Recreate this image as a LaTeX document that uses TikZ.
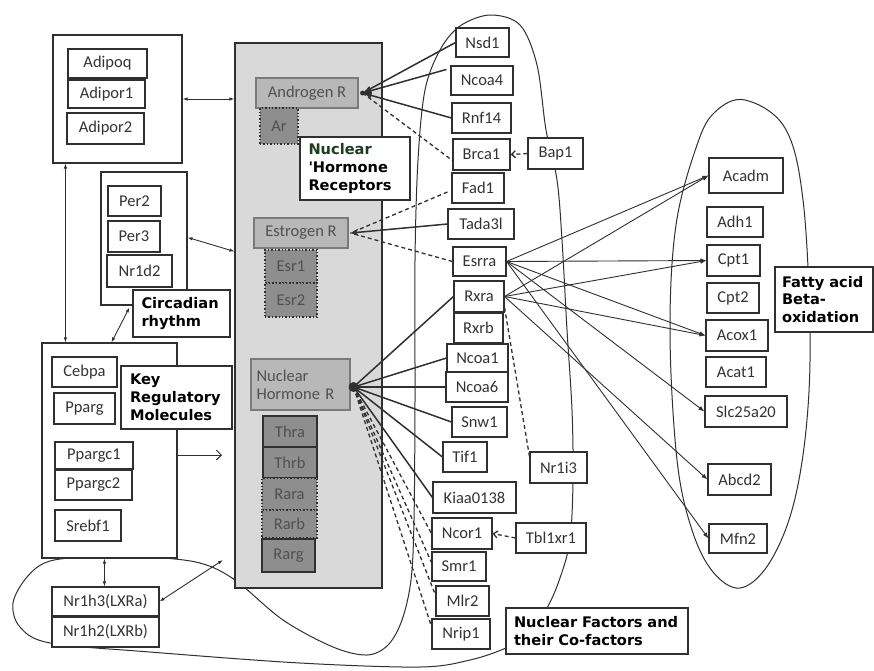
\documentclass[tikz,border=0pt]{standalone}
\usepackage{fontspec}
\setmainfont{Carlito}
\newfontfamily\lblfont{DejaVu Sans}
\usetikzlibrary{arrows.meta,calc}
\definecolor{ln}{HTML}{303030}
\definecolor{txt}{HTML}{333333}
\definecolor{hbg}{HTML}{D9D9D9}
\definecolor{rgrey}{HTML}{B8B8B8}
\definecolor{rborder}{HTML}{7A7A7A}
\definecolor{rtext}{HTML}{505050}
\definecolor{dgrey}{HTML}{8E8E8E}
\definecolor{nucgreen}{HTML}{1E3C1E}
\tikzset{
  box/.style={draw=ln, line width=1.1pt, fill=white, inner sep=0pt, text=txt, font=\fontsize{16.5}{18}\selectfont},
  rbox/.style={box, fill=rgrey, draw=rborder, text=rtext},
  dotbox/.style={box, fill=dgrey, draw=ln, line width=1.4pt, dotted, text=rtext},
  solbox/.style={box, fill=dgrey, draw=ln, line width=1.4pt, text=rtext},
  lbl/.style={draw=ln, line width=1.1pt, fill=white, inner sep=0pt, align=left, text=black, font=\lblfont\bfseries\fontsize{14.6}{17.8}\selectfont},
  conn/.style={draw=ln, line width=1.5pt},
  dconn/.style={draw=ln, line width=1.3pt, dash pattern=on 4pt off 3pt},
  thinl/.style={draw=ln, line width=0.9pt},
  fa/.style={thinl, -{Latex[length=6pt,width=4.5pt]}},
  dbl/.style={thinl, {Latex[length=5pt,width=3.5pt]}-{Latex[length=5pt,width=3.5pt]}},
  curve/.style={draw=ln, line width=1pt},
  hubtip/.style={-{Latex[length=9pt,width=6pt]}},
  barb/.style={-{Straight Barb[length=4pt,width=7pt]}},
}
\newcommand\mybox[7][]{\node[box,#1,minimum width={#4-#2},minimum height={#5-#3}] (#6) at ({(#2+#4)/2},{(#3+#5)/2}) {#7};}
\begin{document}
\begin{tikzpicture}[x=1pt,y=-1pt]
\useasboundingbox (0,0) rectangle (874,670);
\fill[white] (0,0) rectangle (874,670);

% big enclosing curves
\draw[curve] plot[smooth cycle, tension=0.55] coordinates {(490,15) (520,25) (537,65) (546,130) (557,180) (562,240) (567,330) (572,410) (573,480) (570,540) (560,578) (547,608) (528,635) (506,648) (470,660) (420,667) (300,663) (150,652) (50,643) (20,627) (13,603) (27,577) (50,561) (100,556) (150,557) (200,563) (235,580) (283,620) (333,647) (367,655) (388,645) (402,620) (411,580) (414,520) (415,400) (415,260) (418,160) (425,90) (440,50) (460,26)};
\draw[curve] plot[smooth cycle, tension=0.6] coordinates {(745,100) (785,128) (803,200) (810,333) (806,430) (792,510) (768,565) (740,588) (713,572) (692,530) (677,460) (670,333) (676,225) (697,145) (715,112)};

% left groups
\mybox{53}{35}{182}{163}{adipo}{}
\mybox{68}{49}{147}{78}{adipoq}{Adipoq}
\mybox{68}{80}{145}{108}{adipor1}{Adipor1}
\mybox{67}{113}{144}{144}{adipor2}{Adipor2}

\mybox{101}{172}{187}{305}{perbox}{}
\mybox{108}{186}{161}{216}{per2}{Per2}
\mybox{108}{221}{160}{252}{per3}{Per3}
\mybox{107}{255}{172}{287}{nr1d2}{Nr1d2}
\node[lbl, minimum width=97, minimum height=47, text width=80] (circ) at (181.5,313.5) {Circadian\\rhythm};

\mybox{42}{343}{177}{558}{keybox}{}
\mybox{52}{357}{117}{387}{cebpa}{Cebpa}
\mybox{54}{393}{115}{424}{pparg}{Pparg}
\mybox{55}{442}{133}{469}{ppargc1}{Ppargc1}
\mybox{55}{470}{132}{500}{ppargc2}{Ppargc2}
\mybox{55}{510}{121}{541}{srebf1}{Srebf1}
\node[lbl, minimum width=111, minimum height=63, text width=93] (keyl) at (176.5,397.5) {Key\\Regulatory\\Molecules};

\mybox{52}{587}{159}{616}{nr1h3}{Nr1h3(LXRa)}
\mybox{52}{617}{159}{647}{nr1h2}{Nr1h2(LXRb)}

% hormone receptor column
\mybox[fill=hbg, draw=ln]{235}{43}{382}{588}{hormone}{}
\mybox[rbox]{256}{78}{358}{108}{andr}{Androgen R}
\mybox[dotbox]{260}{108}{298}{144}{ar}{Ar}
\node[lbl, minimum width=110, minimum height=63, text width=93] (nhrl) at (355,168.5) {\textcolor{nucgreen}{Nuclear}\\'Hormone\\Receptors};
\mybox[rbox]{254}{218}{348}{248}{estr}{Estrogen R}
\mybox[dotbox]{265}{250}{317}{283}{esr1}{Esr1}
\mybox[dotbox]{265}{283}{317}{317}{esr2}{Esr2}
\mybox[rbox, align=left, text width=88pt]{251}{359}{350}{410}{nhr}{Nuclear\\Hormone R}
\mybox[solbox]{263}{416}{317}{447}{thra}{Thra}
\mybox[solbox]{263}{447}{317}{478}{thrb}{Thrb}
\mybox[dotbox]{262}{478}{317}{510}{rara}{Rara}
\mybox[dotbox]{262}{510}{317}{538}{rarb}{Rarb}
\mybox[solbox, line width=1.8pt]{262}{539}{315}{572}{rarg}{Rarg}

% nuclear factors column
\mybox{456}{28}{509}{57}{nsd1}{Nsd1}
\mybox{451}{66}{513}{95}{ncoa4}{Ncoa4}
\mybox{452}{103}{511}{133}{rnf14}{Rnf14}
\mybox{453}{139}{510}{170}{brca1}{Brca1}
\mybox{528}{138}{583}{169}{bap1}{Bap1}
\mybox{452}{173}{504}{203}{fad1}{Fad1}
\mybox{448}{209}{514}{239}{tada}{Tada3l}
\mybox{453}{247}{506}{276}{esrra}{Esrra}
\mybox{454}{281}{504}{312}{rxra}{Rxra}
\mybox{454}{313}{503}{343}{rxrb}{Rxrb}
\mybox{447}{344}{508}{372}{ncoa1}{Ncoa1}
\mybox{446}{372}{508}{402}{ncoa6}{Ncoa6}
\mybox{452}{407}{507}{437}{snw1}{Snw1}
\mybox{443}{442}{487}{472}{tif1}{Tif1}
\mybox{433}{482}{516}{513}{kiaa}{Kiaa0138}
\mybox{530}{452}{587}{483}{nr1i3}{Nr1i3}
\mybox{432}{518}{492}{549}{ncor1}{Ncor1}
\mybox{516}{523}{586}{553}{tbl}{Tbl1xr1}
\mybox{432}{552}{486}{581}{smr1}{Smr1}
\mybox{436}{586}{489}{616}{mlr2}{Mlr2}
\mybox{432}{619}{490}{649}{nrip1}{Nrip1}
\node[lbl, minimum width=182, minimum height=46, text width=166] (nfl) at (597,631) {Nuclear Factors and\\their Co-factors};

% fatty acid column
\mybox{709}{158}{783}{193}{acadm}{Acadm}
\mybox{707}{207}{763}{237}{adh1}{Adh1}
\mybox{707}{245}{760}{276}{cpt1}{Cpt1}
\mybox{707}{283}{759}{313}{cpt2}{Cpt2}
\mybox{706}{320}{768}{351}{acox1}{Acox1}
\mybox{706}{357}{766}{387}{acat1}{Acat1}
\mybox{705}{396}{787}{427}{slc}{Slc25a20}
\mybox{708}{464}{771}{495}{abcd2}{Abcd2}
\mybox{709}{524}{767}{553}{mfn2}{Mfn2}
\node[lbl, minimum width=98, minimum height=65, text width=84] (fal) at (824,299.5) {Fatty acid\\Beta-\\oxidation};

% hubs
\coordinate (arh) at ($(andr.east)+(4,0)$);
\coordinate (erh) at ($(estr.east)+(2,0)$);
\coordinate (nrh) at ($(nhr.east)+(3,2.5)$);

% left connectors
\draw[dbl] (adipo.east) -- (adipo.east -| hormone.west);
\draw[dbl] ($(hormone.north west)+(0,209)$) -- ($(perbox.north east)+(0,66)$);
\draw[dbl] ($(adipo.south west)+(13,0)$) -- ($(keybox.north west)+(24,0)$);
\draw[dbl] ($(circ.north west)+(-3,18)$) -- ($(keybox.north west)+(70,0)$);
\coordinate (keyarr) at (222,455);
\draw[thinl, -{Straight Barb[length=5pt,width=10pt]}] ($(keybox.east)+(0,4.5)$) -- (keyarr);
\draw[dbl] ($(keybox.south west)+(63,0)$) -- ($(nr1h3.north west)+(53,0)$);
\coordinate (hbl) at (223,560);
\draw[dbl] (nr1h3.east) -- (hbl);

% androgen hub
\draw[conn, hubtip] (nsd1.west) -- (arh);
\draw[conn, hubtip] ($(ncoa4.north west)+(-4,4)$) -- (arh);
\draw[conn, hubtip] (rnf14.west) -- (arh);
\draw[dconn] (arh) -- ($(brca1.south west)+(0,-10)$);
\draw[dconn, barb] (bap1.west) -- (brca1.east);

% estrogen hub
\draw[dconn] ($(fad1.west)+(-4,4)$) -- (erh);
\draw[conn, -{Stealth[length=8pt,width=7pt]}] (tada.west) -- (erh);
\draw[dconn] (esrra.west) -- (erh);

% nuclear hormone hub
\draw[conn] (nrh) -- (rxra.west);
\draw[conn] (nrh) -- (ncoa1.west);
\draw[conn] (nrh) -- (ncoa6.west);
\draw[conn] (nrh) -- (snw1.west);
\draw[conn] (nrh) -- (tif1.west);
\draw[conn] (nrh) -- (kiaa.west);
\draw[dconn] (nrh) -- (ncor1.west);
\draw[dconn] (nrh) -- ($(smr1.north west)+(0,11)$);
\draw[dconn] (nrh) -- ($(mlr2.north west)+(-1,7)$);
\draw[dconn] (nrh) -- ($(nrip1.north west)+(0,8)$);
\fill[ln] (nrh) circle (5pt);
\fill[ln] (arh) circle (2.5pt);
\draw[dconn, barb] (tbl.west) -- (ncor1.east);
\draw[dconn] ($(rxra.south east)+(0,-5)$) -- ($(nr1i3.north west)+(0,5)$);

% fatty acid arrows
\draw[fa] (esrra.east) -- (acadm.west);
\draw[fa] (esrra.east) -- (cpt1.west);
\draw[fa] (esrra.east) -- (acox1.west);
\draw[fa] (esrra.east) -- (slc.west);
\draw[fa] (esrra.east) -- (mfn2.west);
\draw[fa] (rxra.east) -- (acadm.west);
\draw[fa] (rxra.east) -- (cpt1.west);
\draw[fa] (rxra.east) -- (acox1.west);
\draw[fa] (rxra.east) -- (abcd2.west);
\end{tikzpicture}
\end{document}
